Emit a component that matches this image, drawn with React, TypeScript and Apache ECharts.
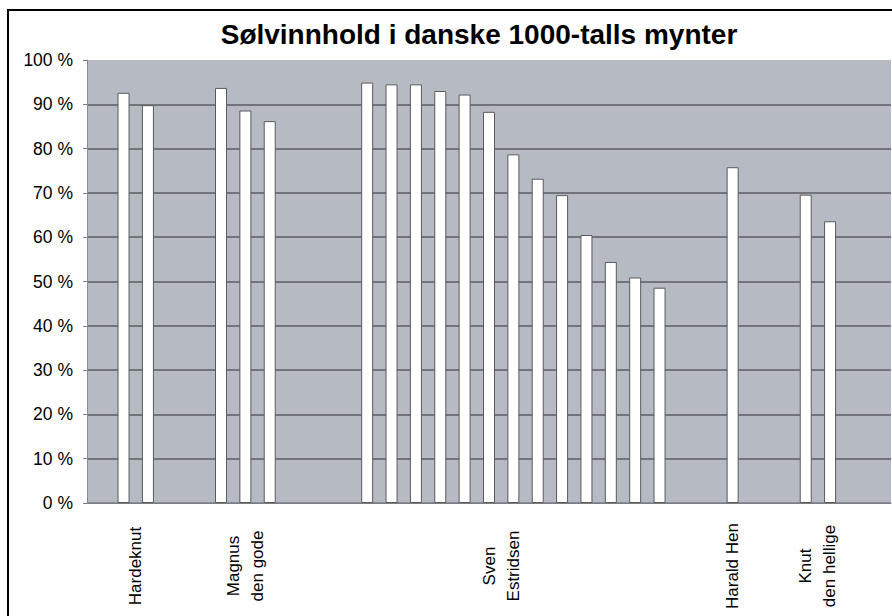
import React, { useEffect, useRef } from "react";
import * as echarts from "echarts";

// Groups (kings) and their coins' silver content (%)
const groupNames = ["Hardeknut", "Magnus\nden gode", "Sven\nEstridsen", "Harald Hen", "Knut\nden hellige"];
const hardeknut = [92.6, 89.8];
const magnus = [93.7, 88.6, 86.2];
const sven = [94.9, 94.5, 94.5, 93.0, 92.2, 88.3, 78.7, 73.2, 69.5, 60.5, 54.4, 50.9, 48.6];
const harald = [75.8];
const knut = [69.6, 63.6];
// empty categories before each group, and after the last
const gapsBefore = [1, 2, 3, 2, 2];
const gapsAfter = 2;
const yTicks = [0, 10, 20, 30, 40, 50, 60, 70, 80, 90, 100];

const title = "Sølvinnhold i danske 1000-talls mynter";

// label nudge in half-category steps (layout only)
const labelNudge = [0, 0, -1, 0, 0];

export default function App() {
  const ref = useRef<HTMLDivElement>(null);

  useEffect(() => {
    if (!ref.current) return;
    const chart = echarts.init(ref.current, null, { renderer: "svg" });

    const groups = [hardeknut, magnus, sven, harald, knut];
    const barData: (number | null)[] = [];
    const labelMap: Record<string, string> = {};
    groups.forEach((g, gi) => {
      for (let k = 0; k < gapsBefore[gi]; k++) barData.push(null);
      const start = barData.length;
      g.forEach((v) => barData.push(v));
      const end = barData.length - 1;
      // half-slot grid position of group centre
      labelMap[String(start + end + 1 + labelNudge[gi])] = groupNames[gi];
    });
    for (let k = 0; k < gapsAfter; k++) barData.push(null);
    const nSlots = barData.length;
    const slotCats = barData.map((_, i) => String(i));
    const halfCats = Array.from({ length: nSlots * 2 + 1 }, (_, i) => String(i));

    const splitColors = yTicks.map((t, i) =>
      i === 0 ? "#7a7d84" : i === yTicks.length - 1 ? "rgba(0,0,0,0)" : "#5a5d63"
    );

    const font = "'Liberation Sans', Arial, sans-serif";

    chart.setOption({
      animation: false,
      backgroundColor: "#ffffff",
      title: {
        text: title,
        left: 474,
        top: 15,
        textAlign: "center",
        textStyle: { fontFamily: font, fontWeight: "bold", fontSize: 28, color: "#000" },
      },
      grid: {
        left: 87,
        right: 1,
        top: 60,
        bottom: 113,
        show: true,
        backgroundColor: "#b6bac2",
        borderWidth: 0,
      },
      xAxis: [
        {
          type: "category",
          data: slotCats,
          boundaryGap: true,
          axisLine: { show: true, lineStyle: { color: "#7a7d84", width: 1 } },
          axisTick: { show: false },
          axisLabel: { show: false },
          splitLine: { show: false },
        },
        {
          type: "category",
          data: halfCats,
          boundaryGap: false,
          position: "bottom",
          offset: 0,
          axisLine: { show: false },
          axisTick: { show: false },
          splitLine: { show: false },
          axisLabel: {
            interval: 0,
            rotate: 90,
            align: "center",
            verticalAlign: "middle",
            margin: 63,
            fontFamily: font,
            fontSize: 17,
            lineHeight: 24,
            color: "#000",
            formatter: (v: string) => labelMap[v] || "",
          },
        },
      ],
      yAxis: {
        type: "value",
        min: 0,
        max: 100,
        interval: 10,
        axisLine: { show: true, lineStyle: { color: "#8a8d93", width: 1 } },
        axisTick: { show: true, inside: false, length: 4, lineStyle: { color: "#7a7d84" } },
        axisLabel: {
          formatter: "{value} %",
          margin: 14,
          fontFamily: font,
          fontSize: 17.5,
          color: "#000",
        },
        splitLine: { show: true, lineStyle: { color: splitColors, width: 1.5 } },
      },
      series: [
        {
          type: "bar",
          xAxisIndex: 0,
          data: barData,
          barWidth: 12,
          itemStyle: { color: "#ffffff", borderColor: "#5a5a5a", borderWidth: 1 },
        },
      ],
      graphic: [
        {
          type: "rect",
          silent: true,
          z: 100,
          shape: { x: 8, y: 10, width: 900, height: 620 },
          style: { fill: "none", stroke: "#000", lineWidth: 2 },
        },
      ],
    });

    return () => chart.dispose();
  }, []);

  return (
    <div
      ref={ref}
      style={{ position: "fixed", left: 0, top: 0, width: 892, height: 616, background: "#fff" }}
    />
  );
}
